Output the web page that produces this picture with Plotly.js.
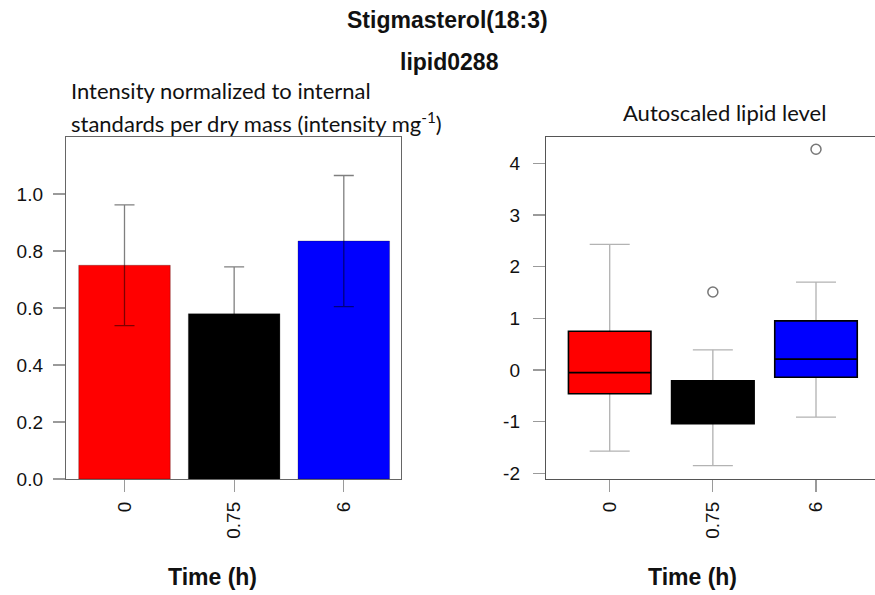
<!DOCTYPE html>
<html>
<head>
<meta charset="utf-8">
<script src="https://cdn.plot.ly/plotly-3.0.1.min.js"></script>
<style>
  html, body { margin: 0; padding: 0; background: #ffffff; overflow: hidden; }
  #chart { width: 875px; height: 595px; }
</style>
</head>
<body>
<div id="chart"></div>
<script>
// ---- data ----
const timeLabels = ['0', '0.75', '6'];
const groupColors = ['#FF0000', '#000000', '#0000FF'];

// left panel: mean normalized intensity with error bars
const barMeans = [0.75, 0.58, 0.835];
const barErrors = [0.212, 0.164, 0.23];

// right panel: autoscaled lipid level box statistics
const boxLowerFence = [-1.57, -1.85, -0.91];
const boxQ1 = [-0.46, -1.04, -0.14];
const boxMedian = [-0.05, -0.62, 0.21];
const boxQ3 = [0.75, -0.21, 0.95];
const boxUpperFence = [2.43, 0.39, 1.70];
const outlierX = ['0.75', '6'];
const outlierY = [1.51, 4.27];

const leftTickVals = [0, 0.2, 0.4, 0.6, 0.8, 1.0];
const rightTickVals = [-2, -1, 0, 1, 2, 3, 4];
const rightTickText = ['-2', '-1', '0', '1', '2', '3', '4'];

// ---- styling ----
const W = 875, H = 595;
const tickFont = { family: 'Liberation Sans, Arial, sans-serif', size: 19, color: '#111111' };
const boldFamily = 'Liberation Sans, Arial, sans-serif';
const labelFamily = 'Lato, Open Sans, sans-serif';
const yDomain = [1 - 479 / H, 1 - 137 / H];
const whiskerGrey = '#b3b3b3';
const zeros = timeLabels.map(() => 0);

const traces = [];

traces.push({
  type: 'bar',
  x: timeLabels,
  y: barMeans,
  width: 0.835,
  marker: { color: groupColors, line: { color: 'rgba(0,0,0,0.25)', width: 1 } },
  error_y: { type: 'data', array: barErrors, visible: true, color: 'rgba(0,0,0,0.5)', thickness: 1.3, width: 10 },
  xaxis: 'x', yaxis: 'y',
  hoverinfo: 'skip'
});

// whiskers (grey): thin bars from the box edges to the fences, capped by a zero-length error bar
traces.push({
  type: 'bar',
  x: timeLabels,
  base: boxQ3,
  y: boxUpperFence.map((v, i) => v - boxQ3[i]),
  width: 0.013,
  marker: { color: whiskerGrey, line: { width: 0 } },
  error_y: { type: 'data', symmetric: false, visible: true, array: zeros, arrayminus: zeros,
             color: whiskerGrey, thickness: 1.3, width: 20 },
  xaxis: 'x2', yaxis: 'y2', hoverinfo: 'skip'
});
traces.push({
  type: 'bar',
  x: timeLabels,
  base: boxQ1,
  y: boxLowerFence.map((v, i) => v - boxQ1[i]),
  width: 0.013,
  marker: { color: whiskerGrey, line: { width: 0 } },
  error_y: { type: 'data', symmetric: false, visible: true, array: zeros, arrayminus: zeros,
             color: whiskerGrey, thickness: 1.3, width: 20 },
  xaxis: 'x2', yaxis: 'y2', hoverinfo: 'skip'
});

for (let i = 0; i < timeLabels.length; i++) {
  traces.push({
    type: 'box',
    x: [timeLabels[i]],
    q1: [boxQ1[i]], median: [boxMedian[i]], q3: [boxQ3[i]],
    lowerfence: [boxQ1[i]], upperfence: [boxQ3[i]],
    fillcolor: groupColors[i],
    line: { color: '#000000', width: 1.6 },
    whiskerwidth: 0,
    width: 0.8,
    boxpoints: false,
    xaxis: 'x2', yaxis: 'y2',
    hoverinfo: 'skip'
  });
}

traces.push({
  type: 'scatter',
  mode: 'markers',
  x: outlierX,
  y: outlierY,
  marker: { symbol: 'circle-open', size: 10, color: '#777777', line: { width: 1.5, color: '#777777' } },
  xaxis: 'x2', yaxis: 'y2',
  hoverinfo: 'skip'
});

function ann(text, xpx, ypx, size, family, xanchor) {
  return {
    text: text, xref: 'paper', yref: 'paper',
    x: xpx / W, y: 1 - ypx / H,
    xanchor: xanchor || 'center', yanchor: 'middle',
    showarrow: false,
    font: { family: family, size: size, color: '#111111' }
  };
}

const layout = {
  width: W, height: H,
  margin: { l: 0, r: 0, t: 0, b: 0 },
  paper_bgcolor: '#ffffff', plot_bgcolor: '#ffffff',
  showlegend: false,
  barmode: 'overlay',
  boxmode: 'overlay',
  xaxis: {
    domain: [66 / W, 401 / W], anchor: 'y',
    type: 'category', categoryorder: 'array', categoryarray: timeLabels,
    range: [-0.5335, 2.5217],
    showline: true, mirror: true, linecolor: '#666666', linewidth: 1.2,
    ticks: 'outside', ticklen: 12, tickcolor: '#9a9a9a', tickwidth: 1.2,
    tickangle: -90, tickfont: tickFont, ticklabelstandoff: 2,
    showgrid: false, zeroline: false
  },
  yaxis: {
    domain: yDomain, anchor: 'x',
    range: [0, 1.2],
    tickvals: leftTickVals, tickformat: '.1f',
    showline: true, mirror: true, linecolor: '#666666', linewidth: 1.2,
    ticks: 'outside', ticklen: 12, tickcolor: '#9a9a9a', tickwidth: 1.2,
    tickfont: tickFont, ticklabelstandoff: 6,
    showgrid: false, zeroline: false
  },
  xaxis2: {
    domain: [546 / W, 1], anchor: 'y2',
    type: 'category', categoryorder: 'array', categoryarray: timeLabels,
    range: [-0.6176, 2.572],
    showline: true, mirror: true, linecolor: '#555555', linewidth: 1.2,
    ticks: 'outside', ticklen: 12, tickcolor: '#9a9a9a', tickwidth: 1.2,
    tickangle: -90, tickfont: tickFont, ticklabelstandoff: 2,
    showgrid: false, zeroline: false
  },
  yaxis2: {
    domain: yDomain, anchor: 'x2',
    range: [-2.108, 4.507],
    tickvals: rightTickVals, ticktext: rightTickText,
    showline: true, mirror: false, linecolor: '#555555', linewidth: 1.2,
    ticks: 'outside', ticklen: 12, tickcolor: '#9a9a9a', tickwidth: 1.2,
    tickfont: tickFont, ticklabelstandoff: 9,
    showgrid: false, zeroline: false
  },
  annotations: [
    ann('<b>Stigmasterol(18:3)</b>', 447.5, 20.5, 23, boldFamily),
    ann('<b>lipid0288</b>', 450, 62.5, 23, boldFamily),
    ann('Intensity normalized to internal', 69, 90, 22, labelFamily, 'left'),
    ann('standards per dry mass (intensity mg<sup>-1</sup>)', 69, 123, 22, labelFamily, 'left'),
    ann('Autoscaled lipid level', 724, 112, 22, labelFamily),
    ann('<b>Time (h)</b>', 212.5, 576.5, 23, boldFamily),
    ann('<b>Time (h)</b>', 692, 576.5, 23, boldFamily)
  ]
};

Plotly.newPlot('chart', traces, layout, { staticPlot: true, displayModeBar: false });
</script>
</body>
</html>
